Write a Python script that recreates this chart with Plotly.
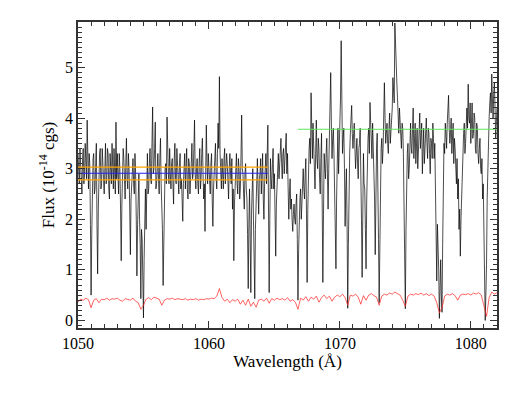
import numpy as np
import plotly.graph_objects as go

# Black spectrum, read at 0.1 A steps from 1050.00 ...
flux_start = 1050.0
flux_step = 0.1
flux = [
    3.3, 2.7, 3.1, 2.5, 3.4, 2.9, 3.2, 3.96, 2.6, 3.1,
    0.5, 2.8, 3.3, 2.6, 3.5, 0.92, 2.9, 3.4, 2.7, 3.2,
    2.5, 3.5, 2.8, 3.3, 2.4, 3.1, 3.5, 2.6, 3.0, 3.92,
    3.3, 2.5, 3.0, 1.18, 2.7, 3.2, 2.4, 3.6, 2.6, 3.0,
    1.3, 2.6, 3.2, 2.5, 2.9, 0.88, 2.4, 2.0, 0.43, 1.6,
    0.05, 1.9, 1.8, 3.3, 2.6, 3.4, 2.7, 4.22, 3.0, 3.92,
    2.7, 3.3, 2.5, 3.6, 2.2, 0.69, 2.4, 3.1, 4.02, 2.9,
    3.4, 2.6, 3.2, 2.3, 3.5, 2.7, 3.0, 2.5, 3.3, 2.8,
    1.96, 3.0, 2.6, 3.4, 2.4, 3.1, 2.7, 3.5, 2.9, 3.96,
    2.6, 3.2, 2.5, 3.4, 2.8, 3.6, 2.4, 1.76, 3.86, 2.7,
    3.0, 2.5, 3.3, 1.86, 2.9, 3.5, 2.6, 3.9, 4.82, 2.8,
    3.2, 2.6, 3.4, 2.9, 3.1, 2.4, 3.3, 2.7, 2.2, 1.18,
    2.8, 3.3, 2.5, 3.0, 2.6, 4.06, 2.9, 2.2, 3.1, 2.4,
    0.63, 2.6, 0.55, 2.8, 2.0, 0.43, 2.5, 3.2, 2.1, 2.9,
    2.5, 3.3, 2.0, 3.0, 2.7, 3.86, 0.55, 3.2, 2.6, 3.4,
    2.9, 1.27, 2.7, 3.3, 3.0, 3.6, 2.8, 3.4, 3.1, 3.7,
    3.3, 2.0, 2.8, 2.4, 1.76, 2.3, 1.9, 2.5, 0.4, 2.1,
    2.6, 2.3, 3.0, 2.4, 3.2, 0.75, 3.0, 3.6, 4.5, 3.2,
    3.5, 2.6, 3.96, 3.0, 3.4, 2.5, 3.7, 0.75, 3.3, 2.8,
    3.6, 2.2, 3.5, 4.9, 3.2, 3.8, 2.7, 1.02, 3.4, 2.9,
    3.9, 5.53, 3.3, 3.8, 1.86, 3.0, 0.24, 2.8, 3.7, 4.25,
    3.4, 3.9, 3.0, 3.6, 2.8, 3.5, 3.1, 0.85, 3.3, 2.6,
    1.02, 3.2, 3.8, 4.31, 3.5, 3.9, 3.1, 1.3, 3.4, 3.0,
    0.35, 2.9, 3.6, 3.4, 4.7, 3.5, 3.9, 3.3, 4.1, 3.7,
    4.2, 4.6, 5.88, 5.1, 4.4, 3.7, 4.0, 3.4, 3.8, 2.5,
    0.23, 2.9, 3.5, 3.0, 3.9, 3.3, 4.2, 3.5, 3.1, 3.8,
    3.3, 4.1, 3.6, 2.9, 3.8, 3.4, 4.0, 3.2, 3.7, 2.9,
    3.5, 3.9, 3.2, 2.4, 0.78, 1.6, 0.04, 1.2, 0.16, 2.8,
    3.3, 3.7, 3.9, 4.45, 3.5, 4.0, 3.6, 3.1, 3.4, 2.7,
    2.4, 1.8, 1.27, 2.6, 3.4, 3.9, 3.5, 4.2, 4.67, 3.9,
    3.5, 4.3, 3.7, 4.0, 3.3, 3.8, 3.1, 3.6, 2.9, 2.4,
    1.5, 0.0, 1.1, 3.2, 4.0, 4.5, 4.87, 4.0, 4.7, 3.6,
    4.2,
]

# ... and at the half steps 1050.05, 1050.15, ...
flux_mid_start = 1050.05
flux_mid = [
    2.9, 3.4, 2.6, 3.2, 2.7, 3.5, 2.8, 3.0, 3.3, 1.9,
    1.7, 3.2, 2.5, 3.1, 1.9, 2.2, 3.3, 2.6, 3.4, 2.8,
    3.2, 2.7, 3.4, 2.6, 3.3, 2.7, 2.9, 3.4, 2.5, 2.8,
    2.9, 3.3, 2.2, 2.3, 3.4, 2.8, 3.1, 2.8, 3.3, 2.2,
    2.4, 3.0, 2.7, 3.3, 2.0, 1.9, 2.9, 1.5, 1.8, 1.0,
    1.2, 2.6, 2.9, 2.5, 3.1, 2.8, 3.5, 2.9, 3.4, 2.6,
    3.0, 2.8, 3.2, 2.7, 1.8, 1.6, 3.0, 2.7, 3.2, 2.7,
    2.9, 3.1, 2.7, 3.2, 2.8, 3.4, 2.7, 3.1, 2.6, 2.4,
    2.7, 3.3, 2.9, 2.6, 3.2, 2.5, 3.1, 2.8, 3.4, 2.9,
    3.0, 2.7, 3.1, 2.6, 3.3, 2.9, 2.7, 2.9, 3.1, 3.3,
    2.7, 3.1, 2.4, 2.6, 3.2, 2.8, 3.3, 3.4, 3.3, 2.6,
    2.8, 3.2, 2.7, 3.3, 2.6, 3.0, 2.9, 3.2, 2.6, 2.3,
    3.1, 2.7, 3.2, 2.4, 3.3, 3.0, 2.5, 2.9, 2.6, 1.7,
    1.9, 1.6, 2.1, 3.0, 1.4, 1.8, 2.9, 2.6, 2.8, 3.2,
    2.9, 2.4, 2.7, 3.3, 3.1, 2.2, 2.0, 2.8, 3.1, 2.6,
    2.1, 2.3, 3.1, 2.8, 3.4, 3.1, 3.3, 2.9, 3.5, 2.9,
    2.6, 2.5, 2.2, 2.0, 2.1, 2.0, 2.3, 1.6, 1.4, 2.4,
    2.0, 2.7, 2.6, 2.9, 2.1, 2.2, 3.4, 3.1, 3.7, 3.9,
    3.0, 3.3, 3.2, 3.6, 2.8, 3.2, 2.3, 2.1, 3.0, 3.3,
    2.9, 3.0, 4.1, 3.9, 3.6, 3.3, 2.0, 2.4, 3.8, 3.4,
    4.4, 4.2, 3.6, 3.0, 2.6, 1.9, 1.5, 3.3, 3.9, 3.7,
    3.7, 3.4, 3.3, 3.1, 3.4, 3.8, 2.0, 2.4, 2.7, 1.8,
    2.4, 3.6, 3.3, 3.8, 3.2, 3.5, 2.4, 2.6, 3.7, 1.6,
    1.9, 3.4, 3.1, 3.9, 4.0, 3.7, 3.5, 3.8, 3.5, 3.9,
    4.8, 4.3, 5.3, 4.7, 4.0, 4.2, 3.6, 3.9, 3.3, 1.5,
    1.8, 3.3, 2.8, 3.6, 3.4, 3.8, 3.2, 3.9, 3.5, 3.0,
    3.7, 3.4, 3.9, 3.5, 3.1, 3.9, 3.5, 3.8, 3.3, 3.6,
    3.2, 3.6, 3.5, 1.8, 1.9, 1.0, 0.6, 0.5, 1.5, 3.5,
    3.9, 3.4, 4.2, 3.8, 3.7, 3.3, 3.9, 3.6, 3.0, 3.2,
    2.8, 2.2, 2.0, 3.1, 3.7, 3.3, 4.1, 3.8, 4.0, 4.3,
    3.9, 3.6, 4.1, 3.4, 3.9, 3.3, 3.4, 3.0, 3.2, 2.7,
    0.8, 0.5, 2.4, 3.7, 4.3, 4.1, 4.4, 4.5, 4.2, 3.9,
]

# Red error spectrum, read at 0.2 A steps from 1050.0 to 1082.0
err_start = 1050.0
err_step = 0.2
error = [
    0.36, 0.42, 0.40, 0.44, 0.41, 0.25, 0.40, 0.43, 0.35, 0.42,
    0.41, 0.44, 0.40, 0.43, 0.42, 0.44, 0.40, 0.38, 0.43, 0.41,
    0.40, 0.44, 0.38, 0.35, 0.22, 0.30, 0.42, 0.45, 0.41, 0.46,
    0.44, 0.42, 0.30, 0.40, 0.43, 0.42, 0.44, 0.41, 0.43, 0.42,
    0.41, 0.43, 0.40, 0.42, 0.41, 0.43, 0.40, 0.42, 0.41, 0.43,
    0.42, 0.44, 0.43, 0.48, 0.63, 0.45, 0.38, 0.42, 0.35, 0.41,
    0.38, 0.42, 0.32, 0.40, 0.30, 0.42, 0.28, 0.36, 0.26, 0.40,
    0.42, 0.38, 0.44, 0.34, 0.43, 0.40, 0.44, 0.41, 0.43, 0.40,
    0.45, 0.38, 0.41, 0.36, 0.22, 0.44, 0.40, 0.47, 0.38, 0.46,
    0.42, 0.48, 0.36, 0.45, 0.50, 0.43, 0.48, 0.38, 0.46, 0.50,
    0.47, 0.52, 0.45, 0.30, 0.50, 0.48, 0.52, 0.46, 0.32, 0.49,
    0.40, 0.50, 0.53, 0.49, 0.46, 0.30, 0.48, 0.52, 0.50, 0.54,
    0.52, 0.56, 0.53, 0.50, 0.40, 0.28, 0.48, 0.52, 0.50, 0.53,
    0.51, 0.54, 0.50, 0.53, 0.49, 0.52, 0.48, 0.35, 0.15, 0.25,
    0.48, 0.52, 0.50, 0.53, 0.49, 0.40, 0.50, 0.52, 0.51, 0.53,
    0.50, 0.54, 0.52, 0.55, 0.50, 0.30, 0.08, 0.45, 0.56, 0.52,
    0.55,
]

# Continuum level lines: [x0, x1, level]
orange_hi = [1050.0, 1064.5, 3.03]
orange_lo = [1050.0, 1064.5, 2.78]
blue_mid = [1050.0, 1064.5, 2.91]
green_lvl = [1066.8, 1082.0, 3.78]

x_ticks = [1050, 1060, 1070, 1080]
y_ticks = [0, 1, 2, 3, 4, 5]

wl_a = flux_start + flux_step * np.arange(len(flux))
wl_b = flux_mid_start + flux_step * np.arange(len(flux_mid))
wl_all = np.concatenate([wl_a, wl_b])
fl_all = np.concatenate([np.array(flux), np.array(flux_mid)])
order = np.argsort(wl_all)
wl_all, fl_all = wl_all[order], fl_all[order]
wl_err = err_start + err_step * np.arange(len(error))

fig = go.Figure()
fig.add_trace(go.Scatter(x=wl_all, y=fl_all, mode="lines",
                         line=dict(color="black", width=0.7)))
fig.add_trace(go.Scatter(x=wl_err, y=error, mode="lines",
                         line=dict(color="#ff2020", width=0.7)))
for seg, col in [(orange_hi, "#ffa500"), (orange_lo, "#ffa500"),
                 (blue_mid, "#2020ff"), (green_lvl, "#5ee65e")]:
    fig.add_trace(go.Scatter(x=[seg[0], seg[1]], y=[seg[2], seg[2]],
                             mode="lines", line=dict(color=col, width=1.2)))

axis_common = dict(
    ticks="inside", ticklen=7, tickwidth=1, tickcolor="#333",
    showline=True, linecolor="#333", linewidth=1.5, mirror="allticks",
    showgrid=False, zeroline=False,
    tickfont=dict(family="Liberation Serif", size=16, color="black"),
)

fig.update_xaxes(range=[1050, 1082], tickvals=x_ticks,
                 minor=dict(dtick=1, ticklen=4, ticks="inside", tickcolor="#333"),
                 title=dict(text="Wavelength (Å)", standoff=4,
                            font=dict(family="Liberation Serif", size=17, color="black")),
                 **axis_common)
fig.update_yaxes(range=[-0.15, 5.9], tickvals=y_ticks,
                 minor=dict(dtick=0.1, ticklen=4, ticks="inside", tickcolor="#333"),
                 title=dict(text="Flux (10<sup>-14</sup> cgs)", standoff=6,
                            font=dict(family="Liberation Serif", size=17, color="black")),
                 **axis_common)

fig.update_layout(width=510, height=384, showlegend=False,
                  plot_bgcolor="white", paper_bgcolor="white",
                  margin=dict(l=70, r=21, t=12, b=64),
                  font=dict(family="Liberation Serif", size=16, color="black"))

fig.write_html("out.html")
